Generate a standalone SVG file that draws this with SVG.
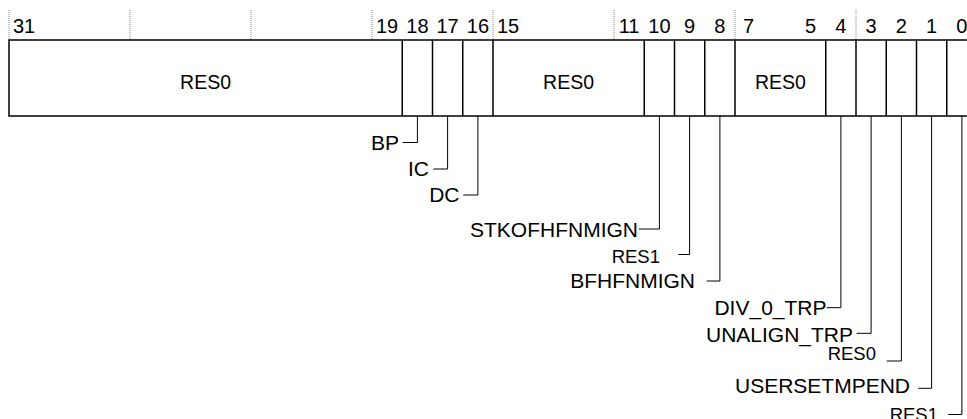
<svg xmlns="http://www.w3.org/2000/svg" width="967" height="419" viewBox="0 0 967 419">
<style>
.num{font-family:"Liberation Sans",Arial,sans-serif;font-size:20px;fill:#000;text-anchor:middle}
.fld{font-family:"Liberation Sans",Arial,sans-serif;font-size:19.5px;fill:#000;text-anchor:middle}
.lbl{font-family:"Liberation Sans",Arial,sans-serif;font-size:21px;fill:#000;text-anchor:end}
.res{font-family:"Liberation Sans",Arial,sans-serif;font-size:18.5px;fill:#000;text-anchor:end}
.tick{stroke:#888;stroke-width:1;stroke-dasharray:1 1;fill:none}
.cell{fill:#fff;stroke:#000;stroke-width:1.5}
.div{stroke:#000;stroke-width:1.5;fill:none}
.lead{stroke:#000;stroke-width:1;fill:none}
</style>
<rect width="967" height="419" fill="#fff"/>
<g id="ticks">
<line class="tick" x1="9" y1="10" x2="9" y2="40"/>
<line class="tick" x1="130" y1="10" x2="130" y2="40"/>
<line class="tick" x1="251" y1="10" x2="251" y2="40"/>
<line class="tick" x1="372" y1="10" x2="372" y2="40"/>
<line class="tick" x1="493" y1="10" x2="493" y2="40"/>
<line class="tick" x1="614" y1="10" x2="614" y2="40"/>
<line class="tick" x1="735" y1="10" x2="735" y2="40"/>
<line class="tick" x1="856" y1="10" x2="856" y2="40"/>
</g>
<g id="bit-numbers">
<text class="num" x="24.1" y="33.3">31</text>
<text class="num" x="387.1" y="33.3">19</text>
<text class="num" x="417.4" y="33.3">18</text>
<text class="num" x="447.6" y="33.3">17</text>
<text class="num" x="477.9" y="33.3">16</text>
<text class="num" x="508.1" y="33.3">15</text>
<text class="num" x="629.1" y="33.3">11</text>
<text class="num" x="659.4" y="33.3">10</text>
<text class="num" x="689.6" y="33.3">9</text>
<text class="num" x="719.9" y="33.3">8</text>
<text class="num" x="748.5" y="33.3">7</text>
<text class="num" x="810.6" y="33.3">5</text>
<text class="num" x="840.9" y="33.3">4</text>
<text class="num" x="871.1" y="33.3">3</text>
<text class="num" x="901.4" y="33.3">2</text>
<text class="num" x="931.6" y="33.3">1</text>
<text class="num" x="961.9" y="33.3">0</text>
</g>
<g id="register">
<rect class="cell" x="9" y="40" width="968" height="76"/>
<line class="div" x1="402.25" y1="40" x2="402.25" y2="116"/>
<line class="div" x1="432.5" y1="40" x2="432.5" y2="116"/>
<line class="div" x1="462.75" y1="40" x2="462.75" y2="116"/>
<line class="div" x1="493" y1="40" x2="493" y2="116"/>
<line class="div" x1="644.25" y1="40" x2="644.25" y2="116"/>
<line class="div" x1="674.5" y1="40" x2="674.5" y2="116"/>
<line class="div" x1="704.75" y1="40" x2="704.75" y2="116"/>
<line class="div" x1="735" y1="40" x2="735" y2="116"/>
<line class="div" x1="825.75" y1="40" x2="825.75" y2="116"/>
<line class="div" x1="856" y1="40" x2="856" y2="116"/>
<line class="div" x1="886.25" y1="40" x2="886.25" y2="116"/>
<line class="div" x1="916.5" y1="40" x2="916.5" y2="116"/>
<line class="div" x1="946.75" y1="40" x2="946.75" y2="116"/>
</g>
<g id="field-res0-31-19"><text class="fld" x="205.6" y="88.7">RES0</text></g>
<g id="field-res0-15-11"><text class="fld" x="568.6" y="88.7">RES0</text></g>
<g id="field-res0-7-5"><text class="fld" x="780.4" y="88.7">RES0</text></g>
<g id="connectors">
<polyline class="lead" points="417.4,116 417.4,142.5 402.5,142.5"/>
<polyline class="lead" points="447.6,116 447.6,169 433.3,169"/>
<polyline class="lead" points="477.9,116 477.9,195 463.3,195"/>
<polyline class="lead" points="659.4,116 659.4,229 639,229"/>
<polyline class="lead" points="689.6,116 689.6,254.5 678.3,254.5"/>
<polyline class="lead" points="719.9,116 719.9,281 706.7,281"/>
<polyline class="lead" points="840.9,116 840.9,307.7 826.7,307.7"/>
<polyline class="lead" points="871.1,116 871.1,333.3 856.7,333.3"/>
<polyline class="lead" points="901.4,116 901.4,361 886.7,361"/>
<polyline class="lead" points="931.6,116 931.6,388.3 918.3,388.3"/>
<polyline class="lead" points="961.9,116 961.9,414.5 948.3,414.5"/>
</g>
<g id="label-bp"><text class="lbl" x="399" y="150">BP</text></g>
<g id="label-ic"><text class="lbl" x="429" y="175.5">IC</text></g>
<g id="label-dc"><text class="lbl" x="459.5" y="201.7">DC</text></g>
<g id="label-stkofhfnmign"><text class="lbl" x="638" y="237.3">STKOFHFNMIGN</text></g>
<g id="label-res1-9"><text class="res" x="660" y="263.3">RES1</text></g>
<g id="label-bfhfnmign"><text class="lbl" x="695" y="288.3">BFHFNMIGN</text></g>
<g id="label-div-0-trp"><text class="lbl" x="826.5" y="315">DIV_0_TRP</text></g>
<g id="label-unalign-trp"><text class="lbl" x="853" y="341.7">UNALIGN_TRP</text></g>
<g id="label-res0-2"><text class="res" x="876" y="360">RES0</text></g>
<g id="label-usersetmpend"><text class="lbl" x="910" y="393.3">USERSETMPEND</text></g>
<g id="label-res1-0"><text class="res" x="938" y="421.3">RES1</text></g>
</svg>
